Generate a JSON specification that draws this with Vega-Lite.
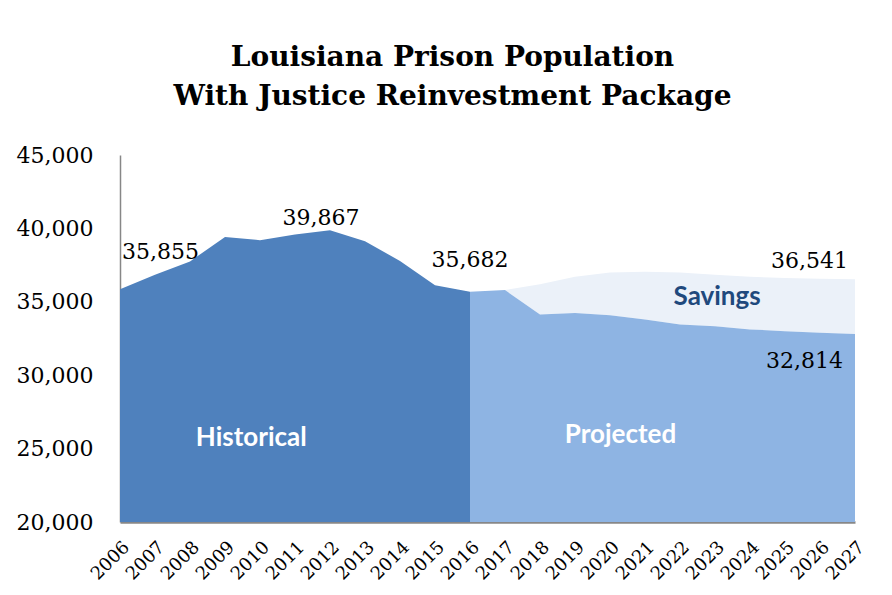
{
  "$schema": "https://vega.github.io/schema/vega-lite/v6.json",
  "width": 735,
  "height": 367,
  "autosize": {"type": "none"},
  "padding": {"left": 120, "top": 155, "right": 37, "bottom": 73},
  "background": "white",
  "config": {
    "view": {"stroke": null},
    "axisX": {"labelAngle": -45, "labelFont": "DejaVu Serif", "labelFontSize": 18, "ticks": false, "grid": false, "domainColor": "#878787", "domainWidth": 2.5, "labelPadding": 16, "labelColor": "black", "labelOverlap": false, "labelFlush": false},
    "axisY": {"labelFont": "DejaVu Serif", "labelFontSize": 22, "ticks": false, "grid": false, "domainColor": "#878787", "domainWidth": 1.5, "labelPadding": 27, "labelColor": "black", "labelFlush": false, "labelOverlap": false}
  },
  "title": {
    "text": ["Louisiana Prison Population", "With Justice Reinvestment  Package"],
    "font": "DejaVu Serif",
    "fontSize": 28,
    "fontWeight": "bold",
    "color": "black",
    "anchor": "middle",
    "frame": "group",
    "dx": -35,
    "offset": 33,
    "lineHeight": 39
  },
  "datasets": {
    "hist": [
      {"year": 2006, "value": 35855},
      {"year": 2007, "value": 36850},
      {"year": 2008, "value": 37750},
      {"year": 2009, "value": 39420},
      {"year": 2010, "value": 39200},
      {"year": 2011, "value": 39580},
      {"year": 2012, "value": 39867},
      {"year": 2013, "value": 39130},
      {"year": 2014, "value": 37780},
      {"year": 2015, "value": 36120},
      {"year": 2016, "value": 35682}
    ],
    "proj": [
      {"year": 2016, "projected": 35682, "baseline": 35682},
      {"year": 2017, "projected": 35800, "baseline": 35800},
      {"year": 2018, "projected": 34140, "baseline": 36200},
      {"year": 2019, "projected": 34240, "baseline": 36700},
      {"year": 2020, "projected": 34090, "baseline": 37000},
      {"year": 2021, "projected": 33800, "baseline": 37050},
      {"year": 2022, "projected": 33460, "baseline": 37000},
      {"year": 2023, "projected": 33340, "baseline": 36850},
      {"year": 2024, "projected": 33120, "baseline": 36700},
      {"year": 2025, "projected": 33000, "baseline": 36620},
      {"year": 2026, "projected": 32900, "baseline": 36570},
      {"year": 2027, "projected": 32814, "baseline": 36541}
    ]
  },
  "layer": [
    {
      "data": {"name": "proj"},
      "mark": {"type": "area", "color": "#ebf1f9", "clip": true},
      "encoding": {
        "x": {"field": "year", "type": "quantitative", "title": null, "scale": {"domain": [2006, 2027], "nice": false, "zero": false},
              "axis": {"values": [2006,2007,2008,2009,2010,2011,2012,2013,2014,2015,2016,2017,2018,2019,2020,2021,2022,2023,2024,2025,2026,2027], "labelExpr": "format(datum.value, 'd')"}},
        "y": {"field": "baseline", "type": "quantitative", "title": null, "scale": {"domain": [20000, 45000], "nice": false, "zero": false},
              "axis": {"values": [20000, 25000, 30000, 35000, 40000, 45000], "labelExpr": "format(datum.value, ',')"}},
        "y2": {"field": "projected"}
      }
    },
    {
      "data": {"name": "hist"},
      "mark": {"type": "area", "color": "#4f81bd", "clip": true},
      "encoding": {
        "x": {"field": "year", "type": "quantitative", "title": null,
              "axis": {"values": [2006,2007,2008,2009,2010,2011,2012,2013,2014,2015,2016,2017,2018,2019,2020,2021,2022,2023,2024,2025,2026,2027], "labelExpr": "format(datum.value, 'd')"}},
        "y": {"field": "value", "type": "quantitative", "title": null,
              "axis": {"values": [20000, 25000, 30000, 35000, 40000, 45000], "labelExpr": "format(datum.value, ',')"}},
        "y2": {"datum": 20000}
      }
    },
    {
      "data": {"name": "proj"},
      "mark": {"type": "area", "color": "#8eb4e3", "clip": true},
      "encoding": {
        "x": {"field": "year", "type": "quantitative", "title": null,
              "axis": {"values": [2006,2007,2008,2009,2010,2011,2012,2013,2014,2015,2016,2017,2018,2019,2020,2021,2022,2023,2024,2025,2026,2027], "labelExpr": "format(datum.value, 'd')"}},
        "y": {"field": "projected", "type": "quantitative", "title": null,
              "axis": {"values": [20000, 25000, 30000, 35000, 40000, 45000], "labelExpr": "format(datum.value, ',')"}},
        "y2": {"datum": 20000}
      }
    },
    {
      "data": {"name": "hist"},
      "transform": [{"filter": "datum.year == 2006"}],
      "mark": {"type": "text", "font": "DejaVu Serif", "fontSize": 22, "align": "left", "baseline": "alphabetic", "dx": 2, "dy": -30, "color": "black"},
      "encoding": {
        "x": {"field": "year", "type": "quantitative", "title": null,
              "axis": {"values": [2006,2007,2008,2009,2010,2011,2012,2013,2014,2015,2016,2017,2018,2019,2020,2021,2022,2023,2024,2025,2026,2027], "labelExpr": "format(datum.value, 'd')"}},
        "y": {"field": "value", "type": "quantitative", "title": null,
              "axis": {"values": [20000, 25000, 30000, 35000, 40000, 45000], "labelExpr": "format(datum.value, ',')"}},
        "text": {"field": "value", "type": "quantitative", "format": ","}
      }
    },
    {
      "data": {"name": "hist"},
      "transform": [{"filter": "datum.year == 2012"}],
      "mark": {"type": "text", "font": "DejaVu Serif", "fontSize": 22, "align": "center", "baseline": "alphabetic", "dx": -9, "dy": -5, "color": "black"},
      "encoding": {
        "x": {"field": "year", "type": "quantitative", "title": null,
              "axis": {"values": [2006,2007,2008,2009,2010,2011,2012,2013,2014,2015,2016,2017,2018,2019,2020,2021,2022,2023,2024,2025,2026,2027], "labelExpr": "format(datum.value, 'd')"}},
        "y": {"field": "value", "type": "quantitative", "title": null,
              "axis": {"values": [20000, 25000, 30000, 35000, 40000, 45000], "labelExpr": "format(datum.value, ',')"}},
        "text": {"field": "value", "type": "quantitative", "format": ","}
      }
    },
    {
      "data": {"name": "hist"},
      "transform": [{"filter": "datum.year == 2016"}],
      "mark": {"type": "text", "font": "DejaVu Serif", "fontSize": 22, "align": "center", "baseline": "alphabetic", "dx": 0, "dy": -25, "color": "black"},
      "encoding": {
        "x": {"field": "year", "type": "quantitative", "title": null,
              "axis": {"values": [2006,2007,2008,2009,2010,2011,2012,2013,2014,2015,2016,2017,2018,2019,2020,2021,2022,2023,2024,2025,2026,2027], "labelExpr": "format(datum.value, 'd')"}},
        "y": {"field": "value", "type": "quantitative", "title": null,
              "axis": {"values": [20000, 25000, 30000, 35000, 40000, 45000], "labelExpr": "format(datum.value, ',')"}},
        "text": {"field": "value", "type": "quantitative", "format": ","}
      }
    },
    {
      "data": {"name": "proj"},
      "transform": [{"filter": "datum.year == 2027"}],
      "mark": {"type": "text", "font": "DejaVu Serif", "fontSize": 22, "align": "right", "baseline": "alphabetic", "dx": -7, "dy": -11, "color": "black"},
      "encoding": {
        "x": {"field": "year", "type": "quantitative", "title": null,
              "axis": {"values": [2006,2007,2008,2009,2010,2011,2012,2013,2014,2015,2016,2017,2018,2019,2020,2021,2022,2023,2024,2025,2026,2027], "labelExpr": "format(datum.value, 'd')"}},
        "y": {"field": "baseline", "type": "quantitative", "title": null,
              "axis": {"values": [20000, 25000, 30000, 35000, 40000, 45000], "labelExpr": "format(datum.value, ',')"}},
        "text": {"field": "baseline", "type": "quantitative", "format": ","}
      }
    },
    {
      "data": {"name": "proj"},
      "transform": [{"filter": "datum.year == 2027"}],
      "mark": {"type": "text", "font": "DejaVu Serif", "fontSize": 22, "align": "right", "baseline": "alphabetic", "dx": -12, "dy": 34, "color": "black"},
      "encoding": {
        "x": {"field": "year", "type": "quantitative", "title": null,
              "axis": {"values": [2006,2007,2008,2009,2010,2011,2012,2013,2014,2015,2016,2017,2018,2019,2020,2021,2022,2023,2024,2025,2026,2027], "labelExpr": "format(datum.value, 'd')"}},
        "y": {"field": "projected", "type": "quantitative", "title": null,
              "axis": {"values": [20000, 25000, 30000, 35000, 40000, 45000], "labelExpr": "format(datum.value, ',')"}},
        "text": {"field": "projected", "type": "quantitative", "format": ","}
      }
    },
    {
      "data": {"values": [{"label": "Historical", "year": 2009.75, "value": 25180}]},
      "mark": {"type": "text", "font": "Lato", "fontSize": 26, "fontWeight": "bold", "align": "center", "baseline": "alphabetic", "color": "white"},
      "encoding": {
        "x": {"field": "year", "type": "quantitative", "title": null,
              "axis": {"values": [2006,2007,2008,2009,2010,2011,2012,2013,2014,2015,2016,2017,2018,2019,2020,2021,2022,2023,2024,2025,2026,2027], "labelExpr": "format(datum.value, 'd')"}},
        "y": {"field": "value", "type": "quantitative", "title": null,
              "axis": {"values": [20000, 25000, 30000, 35000, 40000, 45000], "labelExpr": "format(datum.value, ',')"}},
        "text": {"field": "label"}
      }
    },
    {
      "data": {"values": [{"label": "Projected", "year": 2020.3, "value": 25380}]},
      "mark": {"type": "text", "font": "Lato", "fontSize": 26, "fontWeight": "bold", "align": "center", "baseline": "alphabetic", "color": "white"},
      "encoding": {
        "x": {"field": "year", "type": "quantitative", "title": null,
              "axis": {"values": [2006,2007,2008,2009,2010,2011,2012,2013,2014,2015,2016,2017,2018,2019,2020,2021,2022,2023,2024,2025,2026,2027], "labelExpr": "format(datum.value, 'd')"}},
        "y": {"field": "value", "type": "quantitative", "title": null,
              "axis": {"values": [20000, 25000, 30000, 35000, 40000, 45000], "labelExpr": "format(datum.value, ',')"}},
        "text": {"field": "label"}
      }
    },
    {
      "data": {"values": [{"label": "Savings", "year": 2023.06, "value": 34780}]},
      "mark": {"type": "text", "font": "Lato", "fontSize": 26, "fontWeight": "bold", "align": "center", "baseline": "alphabetic", "color": "#1f497d"},
      "encoding": {
        "x": {"field": "year", "type": "quantitative", "title": null,
              "axis": {"values": [2006,2007,2008,2009,2010,2011,2012,2013,2014,2015,2016,2017,2018,2019,2020,2021,2022,2023,2024,2025,2026,2027], "labelExpr": "format(datum.value, 'd')"}},
        "y": {"field": "value", "type": "quantitative", "title": null,
              "axis": {"values": [20000, 25000, 30000, 35000, 40000, 45000], "labelExpr": "format(datum.value, ',')"}},
        "text": {"field": "label"}
      }
    }
  ]
}
